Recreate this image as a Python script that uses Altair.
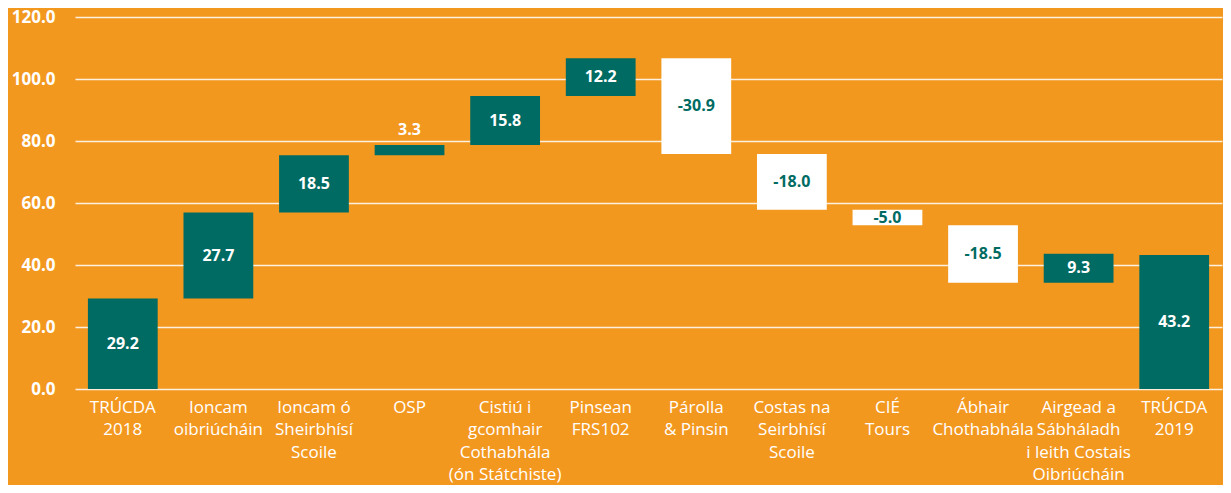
import altair as alt
import pandas as pd

categories = [
    "TRÚCDA|2018",
    "Ioncam|oibriúcháin",
    "Ioncam ó|Sheirbhísí|Scoile",
    "OSP",
    "Cistiú i|gcomhair|Cothabhála|(ón Státchiste)",
    "Pinsean|FRS102",
    "Párolla|& Pinsin",
    "Costas na|Seirbhísí|Scoile",
    "CIÉ|Tours",
    "Ábhair|Chothabhála",
    "Airgead a|Sábháladh|i leith Costais|Oibriúcháin",
    "TRÚCDA|2019",
]
values = [29.2, 27.7, 18.5, 3.3, 15.8, 12.2, -30.9, -18.0, -5.0, -18.5, 9.3, 43.2]
kinds = ["total", "step", "step", "step", "step", "step", "step", "step", "step", "step", "step", "total"]

rows = []
running = 0.0
for c, v, k in zip(categories, values, kinds):
    if k == "total":
        start, end = 0.0, v
        running = v
    else:
        start = running
        end = running + v
        running = end
    lo, hi = min(start, end), max(start, end)
    small = abs(v) < 4
    rows.append({
        "cat": c, "value": v, "lo": lo, "hi": hi,
        "label": f"{v:.1f}",
        "fill": "neg" if v < 0 else "pos",
        "ly": hi + 5.0 if small else (lo + hi) / 2,
        "lcol": "white" if (small or v >= 0) else "teal",
    })
df = pd.DataFrame(rows)

ORANGE = "#F3981F"
TEAL = "#006B62"

x = alt.X("cat:N", sort=categories, title=None,
          scale=alt.Scale(paddingInner=0.27, paddingOuter=0.135),
          axis=alt.Axis(labelExpr="split(datum.label, '|')", labelAngle=0,
                        labelColor="white", labelFont="Open Sans", labelFontSize=17,
                        labelLineHeight=22.5, labelPadding=10, labelOverlap=False,
                        labelLimit=400, ticks=False, domain=False, grid=False,
                        labelBaseline="top"))

bars = alt.Chart(df).mark_bar().encode(
    x=x,
    y=alt.Y("lo:Q", title=None,
            scale=alt.Scale(domain=[0, 120], nice=False),
            axis=alt.Axis(values=[0, 20, 40, 60, 80, 100, 120], format=".1f",
                          labelColor="white", labelFont="Open Sans", labelFontSize=17,
                          labelFontWeight="bold", labelPadding=20, ticks=False,
                          domain=False, grid=True, gridColor="white",
                          gridOpacity=0.85, gridWidth=1.5)),
    y2="hi:Q",
    color=alt.Color("fill:N", scale=alt.Scale(domain=["pos", "neg"], range=[TEAL, "white"]),
                    legend=None),
)

text = alt.Chart(df).mark_text(font="Open Sans", fontSize=16, fontWeight="bold",
                               baseline="middle").encode(
    x=alt.X("cat:N", sort=categories),
    y=alt.Y("ly:Q"),
    text="label:N",
    color=alt.Color("lcol:N", scale=alt.Scale(domain=["white", "teal"], range=["white", TEAL]),
                    legend=None),
)

chart = (bars + text).properties(
    width=1147, height=372, background=ORANGE,
    padding={"left": 67, "top": 9, "right": 1, "bottom": 96},
    autosize=alt.AutoSizeParams(type="none"),
).configure_view(stroke=None).resolve_scale(color="independent")

chart.save("out.html", embed_options={"renderer": "svg", "actions": False})
